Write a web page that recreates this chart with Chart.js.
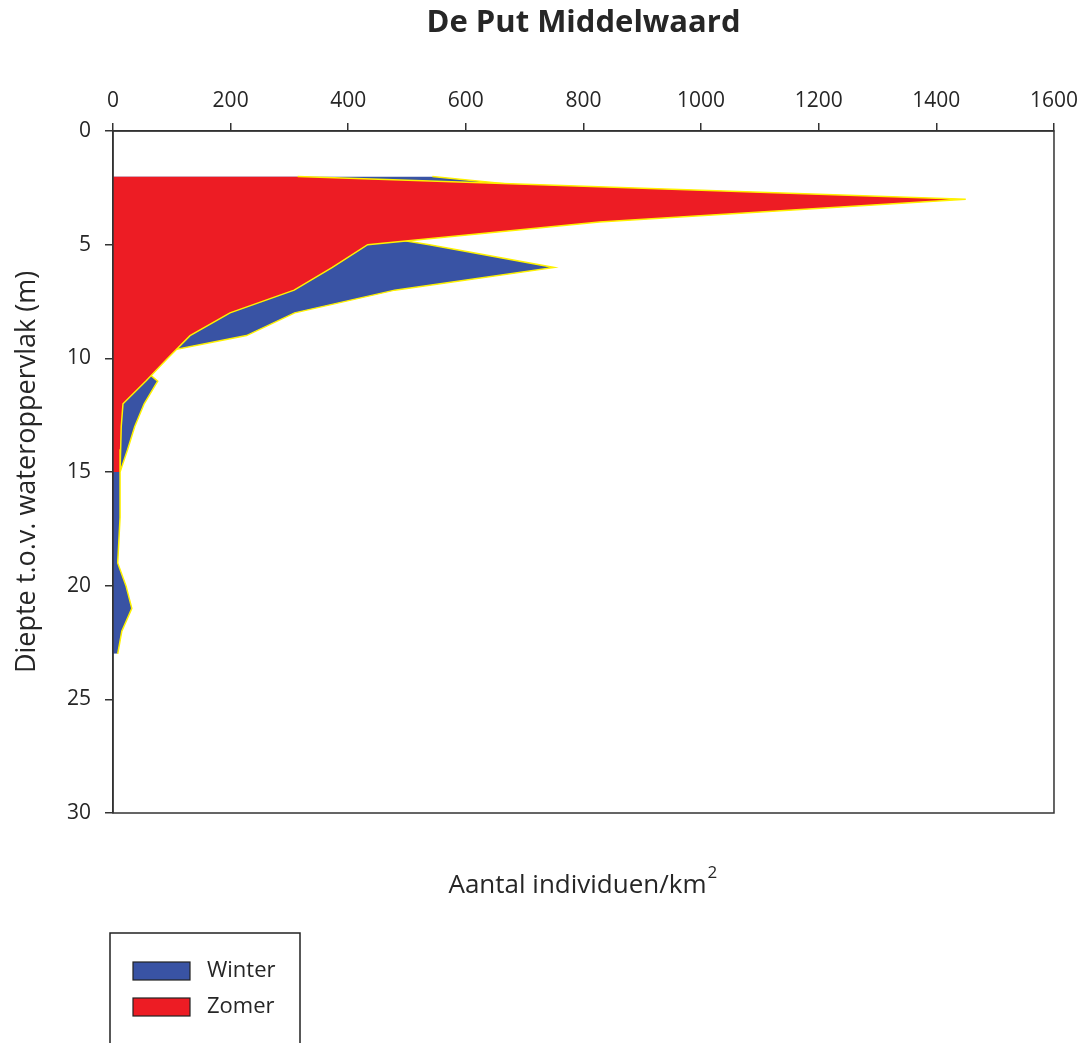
<!DOCTYPE html>
<html>
<head>
<meta charset="utf-8">
<script src="https://cdn.jsdelivr.net/npm/chart.js@4.4.1/dist/chart.umd.min.js"></script>
<style>
  html, body { margin: 0; padding: 0; background: #fff; }
  #wrap { width: 1087px; height: 1043px; }
</style>
</head>
<body>
<div id="wrap"><canvas id="myChart" width="1087" height="1043"></canvas></div>
<script>
// depth in metres below water surface, numbers per km2
var winterDepth = [2, 3, 4, 5, 6, 7, 8, 9, 10, 11, 12, 13, 14, 15, 16, 17, 18, 19, 20, 21, 22, 23];
var winterValues = [543, 930, 300, 538, 750, 479, 309, 227, 30, 76, 53, 37, 25, 12, 12, 12, 10, 8, 22, 32, 15, 8];

var zomerDepth = [2, 3, 4, 5, 6, 7, 8, 9, 10, 11, 12, 13, 14, 15];
var zomerValues = [314, 1450, 827, 433, 373, 308, 199, 131, 93, 56, 17, 14, 13, 12];

var xTicks = [0, 200, 400, 600, 800, 1000, 1200, 1400, 1600];
var yTicks = [0, 5, 10, 15, 20, 25, 30];

function toPoints(depths, values) {
    return depths.map(function (d, i) { return { x: values[i], y: d }; });
}

var FONT = "'Open Sans', sans-serif";
var INK = '#262626';

var extras = {
    id: 'extras',
    afterDraw: function (chart) {
        var c = chart.ctx, a = chart.chartArea;
        var cx = (a.left + a.right) / 2;
        c.save();
        // frame round the plot area
        c.strokeStyle = '#333';
        c.lineWidth = 1.5;
        c.strokeRect(a.left, a.top, a.right - a.left, a.bottom - a.top);

        // chart title
        c.fillStyle = INK;
        c.font = "bold 31px " + FONT;
        c.textAlign = 'center';
        c.textBaseline = 'middle';
        c.fillText('De Put Middelwaard', cx, 23);

        // x axis title below the plot
        c.font = "26px " + FONT;
        var t = 'Aantal individuen/km';
        var w = c.measureText(t).width;
        c.textAlign = 'left';
        c.fillText(t, cx - w / 2 - 6, a.bottom + 73);
        c.font = "17px " + FONT;
        c.fillText('2', cx + w / 2 - 5, a.bottom + 60);

        // legend box
        c.strokeStyle = '#222';
        c.lineWidth = 1.5;
        c.strokeRect(110, a.bottom + 120, 190, 140);
        var sets = [chart.data.datasets[0], chart.data.datasets[1]];
        sets.forEach(function (ds, i) {
            var y = a.bottom + 149 + i * 36;
            c.fillStyle = ds.backgroundColor;
            c.fillRect(133, y, 57, 18);
            c.strokeStyle = '#222';
            c.lineWidth = 1.2;
            c.strokeRect(133, y, 57, 18);
            c.fillStyle = INK;
            c.font = "22px " + FONT;
            c.textAlign = 'left';
            c.textBaseline = 'middle';
            c.fillText(ds.label, 207, y + 9);
        });
        c.restore();
    }
};

var ctx = document.getElementById('myChart').getContext('2d');
var myChart = new Chart(ctx, {
    type: 'line',
    data: {
        datasets: [{
            label: 'Winter',
            data: toPoints(winterDepth, winterValues),
            backgroundColor: '#3953A4',
            borderColor: '#FFF200',
            borderWidth: 1.5,
            fill: 'origin',
            pointRadius: 0,
            tension: 0,
            order: 2
        }, {
            label: 'Zomer',
            data: toPoints(zomerDepth, zomerValues),
            backgroundColor: '#ED1C24',
            borderColor: '#FFF200',
            borderWidth: 1.5,
            fill: 'origin',
            pointRadius: 0,
            tension: 0,
            order: 1
        }]
    },
    options: {
        responsive: false,
        animation: false,
        devicePixelRatio: 1,
        indexAxis: 'y',
        layout: { padding: { left: 0, right: 31, top: 47, bottom: 230 } },
        plugins: {
            legend: { display: false },
            tooltip: { enabled: false },
            title: { display: false }
        },
        scales: {
            x: {
                type: 'linear',
                position: 'top',
                min: 0,
                max: 1600,
                afterBuildTicks: function (s) { s.ticks = xTicks.map(function (v) { return { value: v }; }); },
                afterFit: function (s) { s.height = 84; },
                ticks: {
                    color: INK, font: { family: FONT, size: 21 }, padding: 9, maxRotation: 0,
                    callback: function (v) { return String(v); }
                },
                grid: { drawOnChartArea: false, drawTicks: true, tickLength: 8, color: '#333', lineWidth: 1.5 },
                border: { display: true, color: '#333', width: 1.5 }
            },
            y: {
                type: 'linear',
                reverse: true,
                min: 0,
                max: 30,
                afterBuildTicks: function (s) { s.ticks = yTicks.map(function (v) { return { value: v }; }); },
                afterFit: function (s) { s.width = 113; },
                ticks: {
                    color: INK, font: { family: FONT, size: 21 }, padding: 14,
                    callback: function (v) { return String(v); }
                },
                grid: { drawOnChartArea: false, drawTicks: true, tickLength: 8, color: '#333', lineWidth: 1.5 },
                border: { display: true, color: '#333', width: 1.5 },
                title: {
                    display: true,
                    text: 'Diepte t.o.v. wateroppervlak (m)',
                    color: INK,
                    font: { family: FONT, size: 27 },
                    padding: { top: 11, bottom: 0 }
                }
            }
        }
    },
    plugins: [extras]
});
</script>
</body>
</html>
